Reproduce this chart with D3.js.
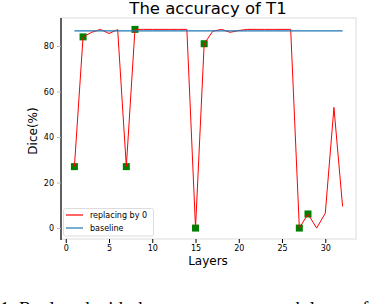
<!DOCTYPE html>
<html><head><meta charset="utf-8">
<script src="https://cdn.jsdelivr.net/npm/d3@7"></script>
<style>html,body{margin:0;padding:0;background:#fff;overflow:hidden}</style>
</head><body>
<svg id="c" width="372" height="304"></svg>
<script>
const layers = d3.range(1, 33);
const replacing = [27, 84, 86, 87.3, 85.5, 87.2, 27, 87.3, 87.3, 87.3, 87.3, 87.3, 87.3, 87.3, 0, 81,
                   86.5, 87.3, 86, 86.8, 87.3, 87.3, 87.3, 87.3, 87.3, 87.3, 0, 6.2, 0, 6.5, 53, 9.5];
const baseline = 86.6;
const markedLayers = [1, 2, 7, 8, 15, 16, 27, 28];
const xTicks = [0, 5, 10, 15, 20, 25, 30];
const yTicks = [0, 20, 40, 60, 80];
const legendLabels = ["replacing by 0", "baseline"];

const svg = d3.select("#c");
const font = "DejaVu Sans";
const L = 61, R = 356, T = 18, B = 239;
const x = d3.scaleLinear().domain([-0.55, 33.55]).range([L, R]);
const y = d3.scaleLinear().domain([-4.8, 92.3]).range([B, T]);

// frame
svg.append("rect").attr("x", L).attr("y", T).attr("width", R - L).attr("height", B - T)
  .attr("fill", "none").attr("stroke", "#dcdcdc").attr("stroke-width", 1);
svg.append("line").attr("x1", L).attr("x2", L).attr("y1", T).attr("y2", B + 1)
  .attr("stroke", "#000").attr("stroke-width", 1.2);

// axes
const xAxis = svg.append("g").attr("transform", `translate(0,${B})`)
  .call(d3.axisBottom(x).tickValues(xTicks).tickSize(4).tickPadding(2));
const yAxis = svg.append("g").attr("transform", `translate(${L},0)`)
  .call(d3.axisLeft(y).tickValues(yTicks).tickSize(4).tickPadding(3));
[xAxis, yAxis].forEach(g => {
  g.select(".domain").remove();
  g.selectAll("text").attr("font-family", font).attr("font-size", 8).attr("fill", "#000");
  g.selectAll("line").attr("stroke", "#000");
});
yAxis.selectAll("line").attr("stroke", "#bbb");

// markers
svg.append("g").selectAll("rect").data(markedLayers).join("rect")
  .attr("x", d => x(d) - 3.5).attr("y", d => y(replacing[d - 1]) - 3.5)
  .attr("width", 7).attr("height", 7).attr("fill", "#008000");

// red line
svg.append("path").datum(layers)
  .attr("d", d3.line().x(d => x(d)).y(d => y(replacing[d - 1])))
  .attr("fill", "none").attr("stroke", "#ff0000").attr("stroke-width", 1);

// baseline
svg.append("line").attr("x1", x(1)).attr("x2", x(32)).attr("y1", y(baseline)).attr("y2", y(baseline))
  .attr("stroke", "#1f77b4").attr("stroke-width", 1.2);

// legend
const lg = svg.append("g");
lg.append("rect").attr("x", 63.5).attr("y", 208.5).attr("width", 90).attr("height", 27.5)
  .attr("rx", 2).attr("fill", "#fff").attr("fill-opacity", 0.8).attr("stroke", "#ddd");
const colors = ["#ff0000", "#1f77b4"];
legendLabels.forEach((t, i) => {
  const yy = 215 + i * 13;
  lg.append("line").attr("x1", 66).attr("x2", 83).attr("y1", yy).attr("y2", yy)
    .attr("stroke", colors[i]).attr("stroke-width", 1.2);
  lg.append("text").attr("x", 90).attr("y", yy + 3).attr("font-family", font).attr("font-size", 8)
    .text(t);
});

// title & labels
svg.append("text").attr("x", 208).attr("y", 13.5).attr("text-anchor", "middle")
  .attr("font-family", font).attr("font-size", 16.5).text("The accuracy of T1");
svg.append("text").attr("x", 208).attr("y", 265).attr("text-anchor", "middle")
  .attr("font-family", font).attr("font-size", 12).text("Layers");
svg.append("text").attr("transform", "translate(37,131) rotate(-90)").attr("text-anchor", "middle")
  .attr("font-family", font).attr("font-size", 12).text("Dice(%)");

// caption (cut off at bottom, as in the reference)
svg.append("text").attr("x", 0).attr("y", 314.5).attr("font-family", "Liberation Serif")
  .attr("font-size", 19).text("1. Replaced with the zero output at each layer of T1");
</script>
</body></html>
